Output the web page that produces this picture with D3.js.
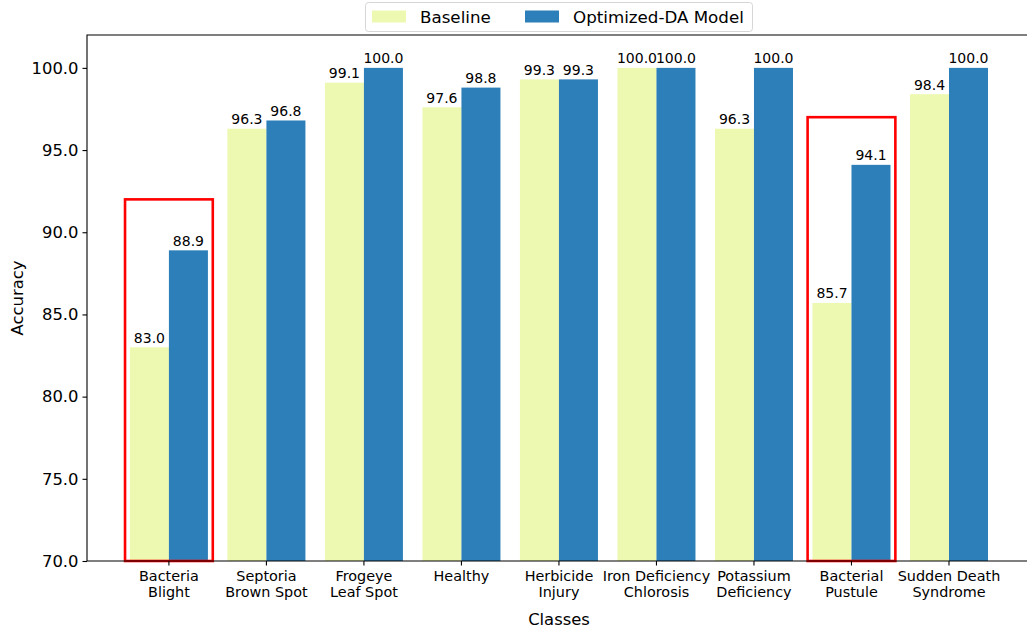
<!DOCTYPE html>
<html>
<head>
<meta charset="utf-8">
<script src="https://cdn.jsdelivr.net/npm/d3@7"></script>
<style>
    body { margin: 0; background: #fff; }
    svg { display: block; font-family: 'DejaVu Sans', sans-serif; }
</style>
</head>
<body>
<svg id="drawing_region"></svg>
<script>
const classes = [
    [ 'Bacteria', 'Blight' ],
    [ 'Septoria', 'Brown Spot' ],
    [ 'Frogeye', 'Leaf Spot' ],
    [ 'Healthy' ],
    [ 'Herbicide', 'Injury' ],
    [ 'Iron Deficiency', 'Chlorosis' ],
    [ 'Potassium', 'Deficiency' ],
    [ 'Bacterial', 'Pustule' ],
    [ 'Sudden Death', 'Syndrome' ]
];
const baseline = [ 83.0, 96.3, 99.1, 97.6, 99.3, 100.0, 96.3, 85.7, 98.4 ];
const optimized = [ 88.9, 96.8, 100.0, 98.8, 99.3, 100.0, 100.0, 94.1, 100.0 ];
const seriesNames = [ 'Baseline', 'Optimized-DA Model' ];
const seriesColors = [ '#edf8b1', '#2c7fb8' ];
const yTicks = [ 70, 75, 80, 85, 90, 95, 100 ];
// highlighted classes: index and top of the red box
const highlights = [ { index: 0, top: 92 }, { index: 7, top: 97 } ];

class GroupedBarChart {

    constructor( config ) {
        this.config = config;
        this.init();
    }

    init() {
        let self = this;
        const c = self.config;

        self.svg = d3.select( c.parent )
            .attr( 'width', c.width )
            .attr( 'height', c.height );

        self.xscale = d3.scaleLinear()
            .domain( [ -0.84, 8.8 ] )
            .range( [ c.margin.left, c.width ] );

        self.yscale = d3.scaleLinear()
            .domain( [ 70, 102 ] )
            .range( [ c.height - c.margin.bottom, c.margin.top ] );

        self.barWidth = 0.4;
    }

    render() {
        let self = this;
        const x = self.xscale, y = self.yscale;
        const w = x( self.barWidth ) - x( 0 );
        const series = [ baseline, optimized ];

        series.forEach( ( values, s ) => {
            self.svg.append( 'g' )
                .selectAll( 'rect' )
                .data( values )
                .join( 'rect' )
                .attr( 'x', ( d, i ) => x( i + ( s - 1 ) * self.barWidth ) )
                .attr( 'y', d => y( d ) )
                .attr( 'width', w )
                .attr( 'height', d => y( 70 ) - y( d ) )
                .attr( 'fill', seriesColors[s] );

            self.svg.append( 'g' )
                .selectAll( 'text' )
                .data( values )
                .join( 'text' )
                .attr( 'x', ( d, i ) => x( i + ( s - 0.5 ) * self.barWidth ) )
                .attr( 'y', d => y( d ) - 4.5 )
                .attr( 'text-anchor', 'middle' )
                .style( 'font-size', '14px' )
                .attr( 'fill', '#000' )
                .text( d => d.toFixed( 1 ) );
        });

        // red highlight boxes
        self.svg.append( 'g' )
            .selectAll( 'rect' )
            .data( highlights )
            .join( 'rect' )
            .attr( 'x', d => x( d.index - 0.45 ) )
            .attr( 'y', d => y( d.top ) )
            .attr( 'width', x( 0.9 ) - x( 0 ) )
            .attr( 'height', d => y( 70 ) - y( d.top ) )
            .attr( 'fill', 'none' )
            .attr( 'stroke', '#ff0000' )
            .attr( 'stroke-width', 2.6 );

        // spines
        const top = y( 102 ), bottom = y( 70 );
        self.svg.append( 'path' )
            .attr( 'd', `M${x.range()[1] + 2},${top} H${x.range()[0]} V${bottom} H${x.range()[1] + 2}` )
            .attr( 'fill', 'none' )
            .attr( 'stroke', '#000' )
            .attr( 'stroke-width', 1.1 );

        // y axis
        const yAxis = self.svg.append( 'g' )
            .attr( 'transform', `translate(${x.range()[0]},0)` )
            .call( d3.axisLeft( y ).tickValues( yTicks ).tickFormat( d3.format( '.1f' ) ).tickSize( 4.5 ).tickPadding( 4 ) );
        yAxis.select( '.domain' ).remove();
        yAxis.selectAll( 'text' ).style( 'font-size', '16.4px' ).attr( 'fill', '#000' ).style( 'font-family', 'DejaVu Sans' );
        yAxis.selectAll( 'line' ).attr( 'stroke', '#000' ).attr( 'stroke-width', 1.1 );

        // x ticks and two-line labels
        const xg = self.svg.append( 'g' )
            .selectAll( 'g' )
            .data( classes )
            .join( 'g' )
            .attr( 'transform', ( d, i ) => `translate(${x( i )},${bottom})` );
        xg.append( 'line' )
            .attr( 'y2', 4.5 )
            .attr( 'stroke', '#000' )
            .attr( 'stroke-width', 1.1 );
        xg.append( 'text' )
            .attr( 'text-anchor', 'middle' )
            .style( 'font-size', '14.4px' )
            .attr( 'fill', '#000' )
            .selectAll( 'tspan' )
            .data( d => d )
            .join( 'tspan' )
            .attr( 'x', 0 )
            .attr( 'y', ( d, i ) => 19.5 + i * 16.2 )
            .text( d => d );

        // axis titles
        self.svg.append( 'text' )
            .attr( 'x', 559 )
            .attr( 'y', 625 )
            .attr( 'text-anchor', 'middle' )
            .style( 'font-size', '16.4px' )
            .text( 'Classes' );

        self.svg.append( 'text' )
            .attr( 'transform', `translate(23,${( top + bottom ) / 2}) rotate(-90)` )
            .attr( 'text-anchor', 'middle' )
            .style( 'font-size', '16.4px' )
            .text( 'Accuracy' );

        // legend
        const legend = self.svg.append( 'g' );
        legend.append( 'rect' )
            .attr( 'x', 365.5 ).attr( 'y', 2.5 )
            .attr( 'width', 387 ).attr( 'height', 29 )
            .attr( 'rx', 3 )
            .attr( 'fill', '#fff' )
            .attr( 'stroke', '#d6d6d6' );
        const items = legend.selectAll( 'g' )
            .data( seriesNames )
            .join( 'g' )
            .attr( 'transform', ( d, i ) => `translate(${372 + i * 153},0)` );
        items.append( 'rect' )
            .attr( 'y', 10.5 ).attr( 'width', 34 ).attr( 'height', 12 )
            .attr( 'fill', ( d, i ) => seriesColors[i] );
        items.append( 'text' )
            .attr( 'x', 48 ).attr( 'y', 22.5 )
            .style( 'font-size', '16.7px' )
            .text( d => d );
    }
}

const chart = new GroupedBarChart( {
    parent: '#drawing_region',
    width: 1027,
    height: 628,
    margin: { top: 35, right: 0, bottom: 67, left: 87 }
} );
chart.render();
</script>
</body>
</html>
